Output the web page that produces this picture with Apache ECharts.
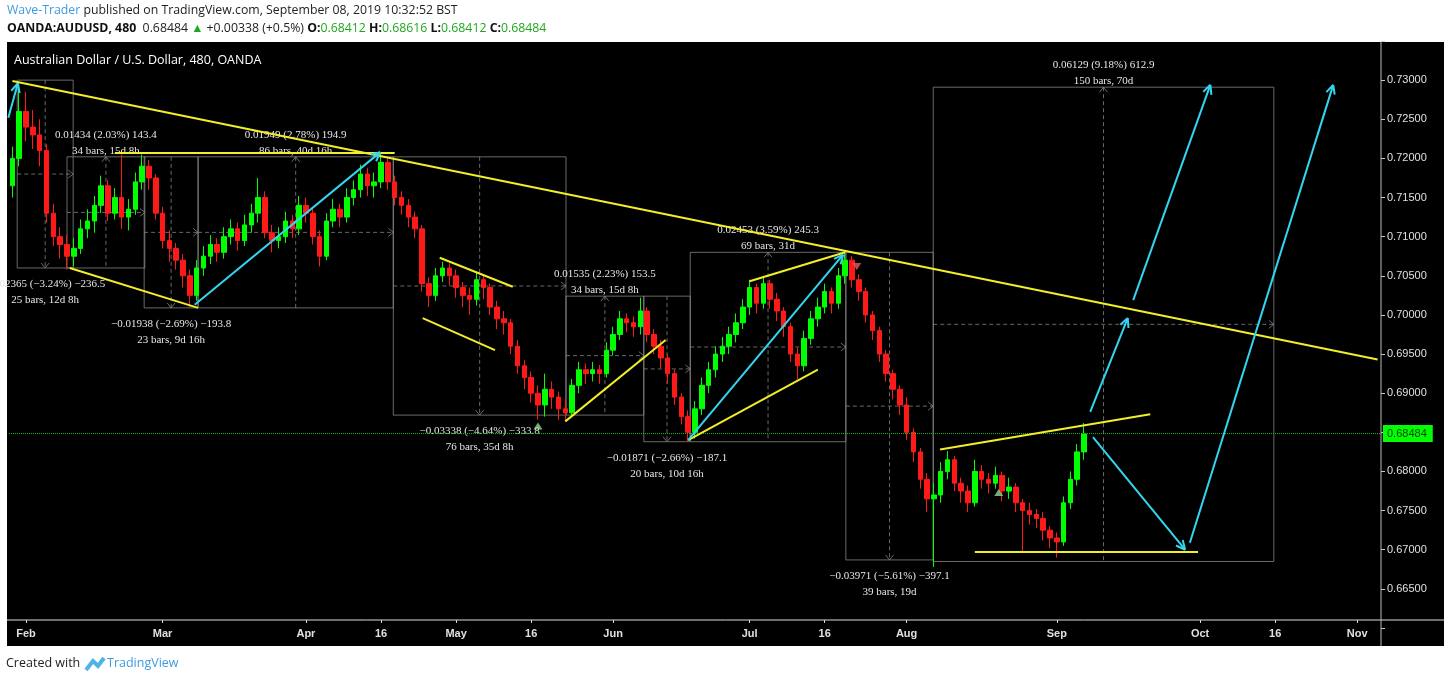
<!DOCTYPE html>
<html>
<head>
<meta charset="utf-8">
<script src="https://cdn.jsdelivr.net/npm/echarts@6/dist/echarts.min.js"></script>
<style>
  html, body { margin: 0; padding: 0; background: #fff; }
  #main { width: 1444px; height: 683px; }
</style>
</head>
<body>
<div id="main"></div>
<script>
// 图表实例
var chart = echarts.init(document.getElementById('main'));

// 每天一根K线 [open, close, low, high]，从 1月30日 起
var candles = [
  [0.7165,0.7200,0.7150,0.7215],[0.7200,0.7260,0.7190,0.7296],[0.7260,0.7240,0.7222,0.7285],[0.7240,0.7230,0.7212,0.7262],
  [0.7230,0.7210,0.7190,0.7250],[0.7210,0.7130,0.7118,0.7218],[0.7130,0.7100,0.7088,0.7142],[0.7100,0.7090,0.7072,0.7112],
  [0.7090,0.7075,0.7058,0.7102],[0.7075,0.7085,0.7062,0.7098],[0.7085,0.7110,0.7078,0.7122],[0.7110,0.7120,0.7098,0.7135],
  [0.7120,0.7140,0.7105,0.7152],[0.7140,0.7165,0.7130,0.7178],[0.7165,0.7130,0.7120,0.7172],[0.7130,0.7150,0.7122,0.7162],
  [0.7150,0.7125,0.7110,0.7205],[0.7125,0.7135,0.7108,0.7148],[0.7135,0.7170,0.7128,0.7182],[0.7170,0.7190,0.7160,0.7205],
  [0.7190,0.7175,0.7160,0.7198],[0.7175,0.7130,0.7122,0.7180],[0.7130,0.7095,0.7085,0.7138],[0.7095,0.7085,0.7068,0.7108],
  [0.7085,0.7070,0.7058,0.7092],[0.7070,0.7050,0.7035,0.7078],[0.7050,0.7025,0.7010,0.7058],[0.7025,0.7060,0.7018,0.7070],
  [0.7060,0.7075,0.7050,0.7088],[0.7075,0.7090,0.7065,0.7102],[0.7090,0.7080,0.7068,0.7098],[0.7080,0.7100,0.7072,0.7112],
  [0.7100,0.7110,0.7090,0.7122],[0.7110,0.7095,0.7082,0.7118],[0.7095,0.7115,0.7088,0.7128],[0.7115,0.7130,0.7105,0.7142],
  [0.7130,0.7150,0.7118,0.7175],[0.7150,0.7105,0.7098,0.7158],[0.7105,0.7095,0.7080,0.7115],[0.7095,0.7100,0.7085,0.7112],
  [0.7100,0.7120,0.7092,0.7132],[0.7120,0.7110,0.7098,0.7128],[0.7110,0.7140,0.7102,0.7152],[0.7140,0.7130,0.7118,0.7150],
  [0.7130,0.7100,0.7090,0.7138],[0.7100,0.7075,0.7062,0.7108],[0.7075,0.7120,0.7070,0.7130],[0.7120,0.7135,0.7112,0.7148],
  [0.7135,0.7125,0.7112,0.7142],[0.7125,0.7150,0.7118,0.7162],[0.7150,0.7160,0.7140,0.7172],[0.7160,0.7180,0.7150,0.7192],
  [0.7180,0.7165,0.7152,0.7188],[0.7165,0.7170,0.7150,0.7182],[0.7170,0.7195,0.7162,0.7207],[0.7195,0.7170,0.7160,0.7200],
  [0.7170,0.7150,0.7140,0.7178],[0.7150,0.7140,0.7128,0.7158],[0.7140,0.7125,0.7112,0.7148],[0.7125,0.7110,0.7098,0.7132],
  [0.7110,0.7040,0.7030,0.7115],[0.7040,0.7025,0.7010,0.7048],[0.7025,0.7050,0.7018,0.7060],[0.7050,0.7060,0.7042,0.7068],
  [0.7060,0.7050,0.7038,0.7066],[0.7050,0.7035,0.7022,0.7058],[0.7035,0.7025,0.7010,0.7042],[0.7025,0.7020,0.7000,0.7035],
  [0.7020,0.7045,0.7012,0.7055],[0.7045,0.7035,0.7020,0.7052],[0.7035,0.7010,0.7000,0.7040],[0.7010,0.6995,0.6982,0.7018],
  [0.6995,0.6990,0.6975,0.7005],[0.6990,0.6960,0.6950,0.6995],[0.6960,0.6935,0.6925,0.6968],[0.6935,0.6920,0.6905,0.6942],
  [0.6920,0.6900,0.6888,0.6928],[0.6900,0.6885,0.6866,0.6910],[0.6885,0.6905,0.6870,0.6925],[0.6905,0.6895,0.6880,0.6915],
  [0.6895,0.6880,0.6866,0.6902],[0.6880,0.6875,0.6864,0.6892],[0.6875,0.6910,0.6870,0.6918],[0.6910,0.6930,0.6900,0.6940],
  [0.6930,0.6925,0.6912,0.6938],[0.6925,0.6930,0.6915,0.6940],[0.6930,0.6925,0.6912,0.6936],[0.6925,0.6955,0.6920,0.6965],
  [0.6955,0.6975,0.6948,0.6985],[0.6975,0.6995,0.6968,0.7005],[0.6995,0.6990,0.6978,0.7002],[0.6990,0.6985,0.6972,0.6998],
  [0.6985,0.7005,0.6975,0.7022],[0.7005,0.6975,0.6965,0.7010],[0.6975,0.6960,0.6950,0.6982],[0.6960,0.6945,0.6932,0.6968],
  [0.6945,0.6925,0.6912,0.6950],[0.6925,0.6895,0.6885,0.6930],[0.6895,0.6870,0.6860,0.6900],[0.6870,0.6850,0.6838,0.6878],
  [0.6850,0.6880,0.6842,0.6890],[0.6880,0.6910,0.6872,0.6920],[0.6910,0.6930,0.6900,0.6940],[0.6930,0.6950,0.6920,0.6960],
  [0.6950,0.6960,0.6940,0.6972],[0.6960,0.6975,0.6950,0.6985],[0.6975,0.6990,0.6965,0.7002],[0.6990,0.7010,0.6982,0.7020],
  [0.7010,0.7035,0.7000,0.7045],[0.7035,0.7015,0.7002,0.7040],[0.7015,0.7040,0.7008,0.7050],[0.7040,0.7020,0.7008,0.7045],
  [0.7020,0.7005,0.6992,0.7028],[0.7005,0.6985,0.6972,0.7010],[0.6985,0.6950,0.6940,0.6990],[0.6950,0.6935,0.6918,0.6958],
  [0.6935,0.6970,0.6928,0.6980],[0.6970,0.6995,0.6962,0.7005],[0.6995,0.7010,0.6985,0.7022],[0.7010,0.7030,0.7002,0.7040],
  [0.7030,0.7015,0.7002,0.7035],[0.7015,0.7050,0.7008,0.7060],[0.7050,0.7070,0.7040,0.7081],[0.7070,0.7045,0.7035,0.7075],
  [0.7045,0.7030,0.7018,0.7052],[0.7030,0.7000,0.6990,0.7035],[0.7000,0.6980,0.6968,0.7005],[0.6980,0.6950,0.6940,0.6985],
  [0.6950,0.6925,0.6915,0.6955],[0.6925,0.6905,0.6892,0.6930],[0.6905,0.6885,0.6872,0.6910],[0.6885,0.6850,0.6840,0.6895],
  [0.6850,0.6825,0.6812,0.6855],[0.6825,0.6790,0.6778,0.6830],[0.6790,0.6765,0.6748,0.6798],[0.6765,0.6770,0.6678,0.6785],
  [0.6770,0.6800,0.6760,0.6812],[0.6800,0.6815,0.6790,0.6826],[0.6815,0.6785,0.6775,0.6820],[0.6785,0.6775,0.6760,0.6792],
  [0.6775,0.6760,0.6748,0.6782],[0.6760,0.6800,0.6755,0.6815],[0.6800,0.6790,0.6778,0.6808],[0.6790,0.6785,0.6772,0.6798],
  [0.6785,0.6795,0.6778,0.6806],[0.6795,0.6775,0.6762,0.6800],[0.6775,0.6780,0.6765,0.6792],[0.6780,0.6760,0.6748,0.6785],
  [0.6760,0.6750,0.6698,0.6765],[0.6750,0.6745,0.6732,0.6760],[0.6745,0.6740,0.6728,0.6752],[0.6740,0.6725,0.6712,0.6748],
  [0.6725,0.6715,0.6702,0.6730],[0.6715,0.6710,0.6690,0.6722],[0.6710,0.6760,0.6705,0.6768],[0.6760,0.6790,0.6752,0.6800],
  [0.6790,0.6825,0.6782,0.6835],[0.6825,0.6848,0.6815,0.6862]
];

// 时间轴：总共201个交易日位置（含未来空白）
var dayCount = 201;
var tickIdx = [2, 22, 43, 54, 65, 76, 88, 108, 119, 131, 153, 174, 185, 197];
var tickTxt = ['Feb', 'Mar', 'Apr', '16', 'May', '16', 'Jun', 'Jul', '16', 'Aug', 'Sep', 'Oct', '16', 'Nov'];

var lastPrice = 0.68484;

// 趋势线 [i1, p1, i2, p2]
var yellowLines = [
  [0, 0.7299, 200, 0.6943],
  [15.0, 0.7207, 56.0, 0.7207],
  [8.4, 0.7060, 27.2, 0.7009],
  [62.6, 0.7073, 73.3, 0.7036],
  [60.1, 0.6996, 70.7, 0.6955],
  [81.0, 0.6864, 95.7, 0.6968],
  [99.0, 0.6840, 118.0, 0.6930],
  [108.0, 0.7043, 122.0, 0.7080],
  [135.9, 0.6828, 166.7, 0.6873],
  [141.0, 0.6697, 173.7, 0.6697]
];
// 箭头 [i1, p1, i2, p2]
var cyanArrows = [
  [-0.6, 0.7252, 0.8, 0.7296],
  [26.7, 0.7013, 53.9, 0.7208],
  [99.0, 0.6840, 121.7, 0.7077],
  [157.9, 0.6876, 163.4, 0.6996],
  [164.2, 0.7019, 175.5, 0.7294],
  [158.3, 0.6844, 171.8, 0.6700],
  [172.5, 0.6709, 193.5, 0.7294]
];
// 测量框 [i1, i2, pTop, pBottom, dir]
var boxes = [
  [0.7, 8.9, 0.7300, 0.7060, -1],
  [8.0, 19.4, 0.7202, 0.7060, 1],
  [19.3, 27.2, 0.7202, 0.7009, -1],
  [27.2, 55.8, 0.7202, 0.7009, 1],
  [55.8, 81.1, 0.7202, 0.6872, -1],
  [81.1, 92.5, 0.7024, 0.6872, 1],
  [92.5, 99.3, 0.7024, 0.6838, -1],
  [99.3, 122.1, 0.7080, 0.6838, 1],
  [122.1, 134.9, 0.7080, 0.6687, -1],
  [134.9, 184.8, 0.7291, 0.6685, 1]
];
var boxLine1 = ['\u22120.02365 (\u22123.24%) \u2212236.5', '0.01434 (2.03%) 143.4', '\u22120.01938 (\u22122.69%) \u2212193.8',
  '0.01949 (2.78%) 194.9', '\u22120.03338 (\u22124.64%) \u2212333.8', '0.01535 (2.23%) 153.5', '\u22120.01871 (\u22122.66%) \u2212187.1',
  '0.02453 (3.59%) 245.3', '\u22120.03971 (\u22125.61%) \u2212397.1', '0.06129 (9.18%) 612.9'];
var boxLine2 = ['25 bars, 12d 8h', '34 bars, 15d 8h', '23 bars, 9d 16h', '86 bars, 40d 16h', '76 bars, 35d 8h',
  '34 bars, 15d 8h', '20 bars, 10d 16h', '69 bars, 31d', '39 bars, 19d', '150 bars, 70d'];

// 小三角标记 [i, p]
var upMarks = [[77, 0.6858], [144.5, 0.6773]];
var downMarks = [[123.7, 0.7062]];

var cats = [];
for (var i = 0; i < dayCount; i++) {
  var k = tickIdx.indexOf(i);
  cats.push(k >= 0 ? tickTxt[k] : '');
}
var kdata = candles.slice();
while (kdata.length < dayCount) kdata.push('-');

var boxColor = 'rgba(140,140,140,0.75)';

function segRender(arrow) {
  return function (params, api) {
    var a = api.coord([api.value(0), api.value(1)]);
    var b = api.coord([api.value(2), api.value(3)]);
    var color = arrow ? '#33d6f0' : '#f2ee2a';
    var kids = [{ type: 'line', shape: { x1: a[0], y1: a[1], x2: b[0], y2: b[1] }, style: { stroke: color, lineWidth: 2 } }];
    if (arrow) {
      var ang = Math.atan2(b[1] - a[1], b[0] - a[0]);
      [0.45, -0.45].forEach(function (d) {
        kids.push({ type: 'line', shape: { x1: b[0], y1: b[1], x2: b[0] - 10 * Math.cos(ang + d), y2: b[1] - 10 * Math.sin(ang + d) },
          style: { stroke: color, lineWidth: 2 } });
      });
    }
    return { type: 'group', children: kids };
  };
}

function boxRender(params, api) {
  var p1 = api.coord([api.value(0), api.value(2)]);
  var p2 = api.coord([api.value(1), api.value(3)]);
  var dir = api.value(4);
  var mx = (p1[0] + p2[0]) / 2, my = (p1[1] + p2[1]) / 2;
  var dash = { stroke: boxColor, lineWidth: 1, lineDash: [4, 3] };
  var tipY = dir > 0 ? p1[1] : p2[1];
  var kids = [
    { type: 'rect', shape: { x: p1[0], y: p1[1], width: p2[0] - p1[0], height: p2[1] - p1[1] }, style: { fill: 'none', stroke: boxColor, lineWidth: 1 } },
    { type: 'line', shape: { x1: mx, y1: p1[1], x2: mx, y2: p2[1] }, style: dash },
    { type: 'line', shape: { x1: p1[0], y1: my, x2: p2[0], y2: my }, style: dash },
    { type: 'polyline', shape: { points: [[mx - 4, tipY + 5 * dir], [mx, tipY], [mx + 4, tipY + 5 * dir]] }, style: { fill: 'none', stroke: boxColor } },
    { type: 'polyline', shape: { points: [[p2[0] - 5, my - 4], [p2[0], my], [p2[0] - 5, my + 4]] }, style: { fill: 'none', stroke: boxColor } }
  ];
  var ty = dir > 0 ? p1[1] - 30 : p2[1] + 8;
  kids.push({ type: 'text', style: { x: mx, y: ty, text: boxLine1[params.dataIndex] + '\n' + boxLine2[params.dataIndex],
    fill: '#e6e6e6', font: '11px "Liberation Serif"', align: 'center', verticalAlign: 'top', lineHeight: 16 } });
  return { type: 'group', children: kids };
}

var option = {
  animation: false,
  backgroundColor: '#fff',
  graphic: [
    { type: 'rect', z: -10, shape: { x: 7, y: 42, width: 1437, height: 604 }, style: { fill: '#000' } },
    { type: 'line', z: 5, shape: { x1: 7, y1: 620, x2: 1444, y2: 620 }, style: { stroke: '#ddd', lineWidth: 1 } },
    { type: 'line', z: 5, shape: { x1: 1381, y1: 42, x2: 1381, y2: 646 }, style: { stroke: '#bbb', lineWidth: 1 } },
    { type: 'text', left: 7, top: 4, style: { text: '{b|Wave-Trader} published on TradingView.com, September 08, 2019 10:32:52 BST',
      font: '12.3px "Open Sans"', fill: '#222', rich: { b: { fill: '#3d9be0', font: '12.3px "Open Sans"' } } } },
    { type: 'text', left: 7, top: 22, style: {
      text: '{k|OANDA:AUDUSD, 480}  0.68484 {g|\u25B2} +0.00338 (+0.5%) {k|O:}{g|0.68412} {k|H:}{g|0.68616} {k|L:}{g|0.68412} {k|C:}{g|0.68484}',
      font: '12.3px "Open Sans"', fill: '#222',
      rich: { k: { font: 'bold 12.3px "Open Sans"', fill: '#111' }, g: { fill: '#1fa81f', font: '12.3px "Open Sans"' } } } },
    { type: 'text', left: 14, top: 54, style: { text: 'Australian Dollar / U.S. Dollar, 480, OANDA', font: '12.5px "Open Sans"', fill: '#fff' } },
    { type: 'text', left: 6, top: 657, style: { text: 'Created with', font: '12.5px "Open Sans"', fill: '#222' } },
    { type: 'polyline', shape: { points: [[86, 670], [93, 661], [98, 666], [104, 658]] }, style: { fill: 'none', stroke: '#4fb3e8', lineWidth: 4 } },
    { type: 'text', left: 107, top: 657, style: { text: 'TradingView', font: '12.5px "Open Sans"', fill: '#3d9be0' } }
  ],
  grid: { left: 9, right: 63, top: 41, bottom: 55 },
  xAxis: [{
    type: 'category', data: cats, offset: -8,
    axisLine: { show: false },
    axisTick: { show: true, alignWithLabel: true, length: 3, lineStyle: { color: '#ddd' },
      interval: function (i) { return tickIdx.indexOf(i) >= 0; } },
    axisLabel: { interval: function (i) { return tickIdx.indexOf(i) >= 0; }, color: '#e0e0e0',
      fontFamily: 'Liberation Sans', fontSize: 11, fontWeight: 'bold', margin: 8 },
    splitLine: { show: false }
  }, {
    type: 'value', min: -0.5, max: dayCount - 0.5, show: false
  }],
  yAxis: {
    type: 'value', position: 'right', min: 0.66, max: 0.735, interval: 0.005,
    axisLine: { show: false, onZero: false },
    axisTick: { show: true, inside: false, length: 4, lineStyle: { color: '#ccc' } },
    axisLabel: { color: '#e0e0e0', fontFamily: 'Liberation Sans', fontSize: 11, margin: 6,
      formatter: function (v) { return (v < 0.6625 || v > 0.7325) ? '' : v.toFixed(5); } },
    splitLine: { show: false }
  },
  series: [
    {
      type: 'candlestick', data: kdata, barWidth: 5,
      itemStyle: { color: '#00ff00', color0: '#ff1a1a', borderColor: '#00ff00', borderColor0: '#ff1a1a', borderWidth: 1 }
    },
    {
      // 当前价格虚线 + 右侧价格标签
      type: 'line', xAxisIndex: 1, data: [[-0.5, lastPrice], [dayCount - 0.5, lastPrice]],
      symbol: 'none', silent: true, z: 4,
      lineStyle: { color: '#1fbf1f', type: 'dotted', width: 1 },
      endLabel: { show: true, formatter: lastPrice.toFixed(5), backgroundColor: '#00ff00', color: '#0a3d0a',
        fontFamily: 'Liberation Sans', fontSize: 11, padding: [3, 6, 3, 4], distance: 2 }
    },
    { type: 'custom', xAxisIndex: 1, data: boxes, renderItem: boxRender, z: 1, silent: true },
    { type: 'custom', xAxisIndex: 1, data: yellowLines, renderItem: segRender(false), z: 5, silent: true },
    { type: 'custom', xAxisIndex: 1, data: cyanArrows, renderItem: segRender(true), z: 6, silent: true },
    { type: 'scatter', xAxisIndex: 1, data: upMarks, symbol: 'triangle', symbolSize: [9, 7], itemStyle: { color: '#8fd88f' } },
    { type: 'scatter', xAxisIndex: 1, data: downMarks, symbol: 'triangle', symbolRotate: 180, symbolSize: [9, 7], itemStyle: { color: '#e06060' } }
  ]
};

chart.setOption(option);
</script>
</body>
</html>
